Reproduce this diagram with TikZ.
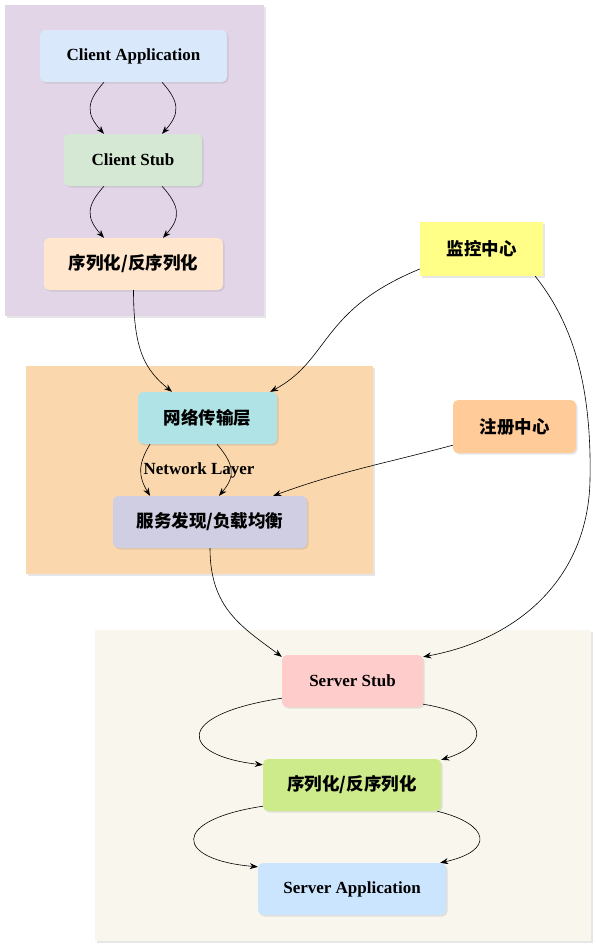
\documentclass[tikz,border=0pt]{standalone}
\usepackage{fontspec}
\setmainfont{Liberation Serif}
\newfontfamily\cjk{Noto Sans CJK SC}
\usetikzlibrary{arrows.meta,shadows}

\definecolor{clientpane}{HTML}{E1D5E7}
\definecolor{netpane}{HTML}{FAD7AC}
\definecolor{serverpane}{HTML}{F9F7ED}
\definecolor{cappfill}{HTML}{DAE8FC}
\definecolor{cstubfill}{HTML}{D5E8D4}
\definecolor{cserfill}{HTML}{FFE6CC}
\definecolor{netfill}{HTML}{B0E3E6}
\definecolor{discfill}{HTML}{D0CEE2}
\definecolor{regfill}{HTML}{FFCC99}
\definecolor{monfill}{HTML}{FFFF88}
\definecolor{sstubfill}{HTML}{FFCCCC}
\definecolor{sserfill}{HTML}{CDEB8B}
\definecolor{sappfill}{HTML}{CCE5FF}

\begin{document}
\begin{tikzpicture}[x=1pt, y=1pt,
		shade/.style={drop shadow={shadow xshift=1.5pt, shadow yshift=-1.5pt, opacity=0.2}},
		box/.style={shade, rounded corners=5pt, minimum height=52pt, inner sep=0pt, font=\fontsize{17}{19}\selectfont\bfseries},
		cnbox/.style={box, font=\cjk\fontsize{17.5}{19}\selectfont\bfseries},
		link/.style={line width=0.6pt, -{Stealth[length=8pt, width=6pt]}}]
		%%%%% START %%%%%
		
		\useasboundingbox (0, 0) rectangle (597, -948);
		
		\fill[clientpane, shade] (5, -5) rectangle (264, -316);
		\fill[netpane, shade] (26, -366) rectangle (373, -574);
		\fill[serverpane, shade] (95, -630) rectangle (591, -941);
		
		\node[box, fill=cappfill, minimum width=187pt] (capp) at (133.5, -56) {Client Application};
		\node[box, fill=cstubfill, minimum width=138pt] (cstub) at (133, -160) {Client Stub};
		\node[cnbox, fill=cserfill, minimum width=179pt] (cser) at (133.5, -264) {序列化/反序列化};
		
		\node[cnbox, fill=netfill, minimum width=139pt] (net) at (207.5, -418) {网络传输层};
		\node[cnbox, fill=discfill, minimum width=194pt] (disc) at (210, -522) {服务发现/负载均衡};
		\node[font=\fontsize{17}{19}\selectfont\bfseries] (netlbl) at (199, -470) {Network Layer};
		
		\node[cnbox, fill=regfill, minimum width=123pt, minimum height=53pt] (reg) at (514.5, -426.5) {注册中心};
		\node[cnbox, sharp corners, fill=monfill, minimum width=123pt, minimum height=54pt] (mon) at (481.5, -249) {监控中心};
		
		\node[box, fill=sstubfill, minimum width=141pt] (sstub) at (352.5, -681) {Server Stub};
		\node[cnbox, fill=sserfill, minimum width=178pt] (sser) at (352, -785) {序列化/反序列化};
		\node[box, fill=sappfill, minimum width=188pt] (sapp) at (352, -889) {Server Application};
		
		\draw[link] ([xshift=-29.5pt]capp.south) .. controls +(-18, -20) and +(-18, 20) .. ([xshift=-29pt]cstub.north);
		\draw[link] ([xshift=28.5pt]capp.south) .. controls +(18, -20) and +(18, 20) .. ([xshift=29pt]cstub.north);
		\draw[link] ([xshift=-29pt]cstub.south) .. controls +(-18, -20) and +(-18, 20) .. ([xshift=-29.5pt]cser.north);
		\draw[link] ([xshift=29pt]cstub.south) .. controls +(18, -20) and +(18, 20) .. ([xshift=29.5pt]cser.north);
		
		\draw[link] (cser.south) .. controls +(0, -60) and +(-27, 22) .. ([xshift=-35.5pt]net.north);
		\draw[link] ([yshift=-20pt]mon.west) .. controls +(-100, -41) and +(60, 32) .. ([xshift=-7pt]net.north east);
		
		\draw[link] ([xshift=-57.5pt]net.south) .. controls +(-12, -20) and +(-12, 20) .. ([xshift=-60pt]disc.north);
		\draw[link] ([xshift=9.5pt]net.south) .. controls +(17, -20) and +(17, 20) .. ([xshift=9pt]disc.north);
		\draw[link] ([yshift=8pt]reg.south west) to[out=195, in=20] ([xshift=-34pt]disc.north east);
		
		\draw[link] (disc.south) .. controls +(0, -60) and +(-40, 30) .. ([yshift=-2pt]sstub.north west);
		\draw[link] ([xshift=-8pt]mon.south east) .. controls +(35, -44) and +(2, 100) .. (590, -480)
			.. controls +(-2, -100) and +(93, 17) .. ([yshift=-2pt]sstub.north east);
		
		\draw[link] ([yshift=9pt]sstub.south west) .. controls +(-111, -17) and +(-82, 9) .. ([yshift=-6pt]sser.north west);
		\draw[link] ([yshift=3pt]sstub.south east) .. controls +(67, -11) and +(49, 15) .. ([yshift=-1pt]sser.north east);
		\draw[link] ([yshift=5pt]sser.south west) .. controls +(-93, -14) and +(-83, 7) .. ([yshift=-4pt]sapp.north west);
		\draw[link] ([xshift=-4pt]sser.south east) .. controls +(53, -13) and +(55, 12) .. ([xshift=-6pt]sapp.north east);
		
		%%%%% END %%%%%
	\end{tikzpicture}
\end{document}
